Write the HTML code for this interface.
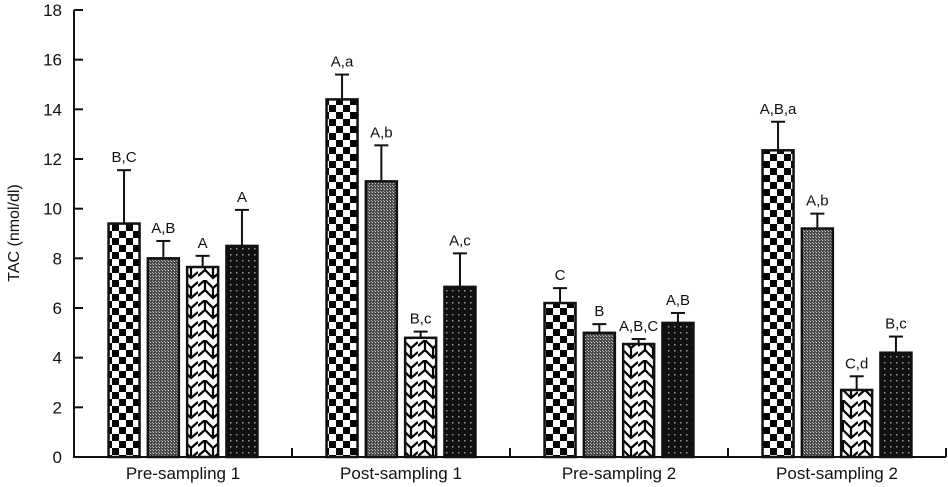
<!DOCTYPE html>
<html><head><meta charset="utf-8"><style>
html,body{margin:0;padding:0;background:#fff;}
svg{display:block;font-family:"Liberation Sans",Arial,sans-serif;}
</style></head><body>
<svg id="chart" width="948" height="487" viewBox="0 0 948 487" xmlns="http://www.w3.org/2000/svg">
<defs>
<pattern id="pChk" width="14" height="14" patternUnits="userSpaceOnUse">
<rect width="14" height="14" fill="#fff"/><rect width="7" height="7" fill="#000"/><rect x="7" y="7" width="7" height="7" fill="#000"/>
</pattern>
<pattern id="pGray" width="3" height="3" patternUnits="userSpaceOnUse">
<rect width="3" height="3" fill="#4a4a4a"/><rect width="1" height="1" fill="#ccc"/><rect x="2" y="2" width="1" height="1" fill="#aaa"/>
</pattern>
<pattern id="pWave" width="22" height="20" patternUnits="userSpaceOnUse">
<rect width="22" height="20" fill="#fff"/>
<path d="M0 6 L7 0 L15 8 L22 2 M0 16 L7 10 L15 18 L22 12 M7 0 L7 10 M15 8 L15 18" stroke="#000" stroke-width="2.2" fill="none"/>
</pattern>
<pattern id="pDot" width="6" height="6" patternUnits="userSpaceOnUse">
<rect width="6" height="6" fill="#111"/><rect x="2" y="2" width="1.5" height="1.5" fill="#999"/>
</pattern>
</defs>
<g id="axes"></g>
<g id="bars"></g>
<text transform="translate(19,233) rotate(-90)" text-anchor="middle" font-size="16" fill="#111">TAC (nmol/dl)</text>
</svg>
<script>
const categories = ["Pre-sampling 1","Post-sampling 1","Pre-sampling 2","Post-sampling 2"];
const seriesChecker = [9.4, 14.4, 6.2, 12.35];
const seriesGray = [8.0, 11.1, 5.0, 9.2];
const seriesWave = [7.65, 4.8, 4.55, 2.7];
const seriesDots = [8.5, 6.85, 5.4, 4.2];
const errChecker = [11.55, 15.4, 6.8, 13.5];
const errGray = [8.7, 12.55, 5.35, 9.8];
const errWave = [8.1, 5.05, 4.75, 3.25];
const errDots = [9.95, 8.2, 5.8, 4.85];
const labChecker = ["B,C","A,a","C","A,B,a"];
const labGray = ["A,B","A,b","B","A,b"];
const labWave = ["A","B,c","A,B,C","C,d"];
const labDots = ["A","A,c","A,B","B,c"];
const yTicks = [0,2,4,6,8,10,12,14,16,18];

const NS="http://www.w3.org/2000/svg";
const X0=74, X1=946, Y0=457, Y18=10;
const y = v => Y0 - v*(Y0-Y18)/18;
const groupW = (X1-X0)/categories.length;
const gx = i => X0 + groupW*i + groupW/2;
function mk(tag, attrs, parent){const e=document.createElementNS(NS,tag);for(const k in attrs)e.setAttribute(k,attrs[k]);parent.appendChild(e);return e;}
const axes=document.getElementById('axes'), bars=document.getElementById('bars');

const yl=mk('line',{x1:X0,y1:Y18,x2:X0,y2:Y0+1,stroke:'#111','stroke-width':2},axes);


const xl=mk('line',{x1:X0-1,y1:Y0,x2:X1,y2:Y0,stroke:'#111','stroke-width':2},axes);


yTicks.forEach(t=>{
  const tk=mk('line',{x1:X0,y1:y(t),x2:X0+9,y2:y(t),stroke:'#111','stroke-width':2},axes);
  
  
  const tl=mk('text',{x:X0-12,y:y(t)+6,'text-anchor':'end','font-size':17,fill:'#111'},axes);
  tl.textContent=t;
  
  
});
for(let i=1;i<=categories.length;i++){
  const tk=mk('line',{x1:X0+groupW*i,y1:Y0,x2:X0+groupW*i,y2:Y0-9,stroke:'#111','stroke-width':2},axes);
  
  
}
categories.forEach((c,i)=>{
  const t=mk('text',{x:gx(i),y:479,'text-anchor':'middle','font-size':17,fill:'#111'},axes);
  t.textContent=c;
  
  
});
const series=[[seriesChecker,errChecker,labChecker,'url(#pChk)'],[seriesGray,errGray,labGray,'url(#pGray)'],[seriesWave,errWave,labWave,'url(#pWave)'],[seriesDots,errDots,labDots,'url(#pDot)']];
const bw=31, step=39.3;
categories.forEach((c,i)=>{
  series.forEach((s,j)=>{
    const cx=gx(i)+(j-1.5)*step;
    const v=s[0][i], e=s[1][i];
    const el=mk('line',{x1:cx,y1:y(e),x2:cx,y2:y(v),stroke:'#111','stroke-width':2},bars);
    
    
    const cap=mk('line',{x1:cx-7,y1:y(e),x2:cx+7,y2:y(e),stroke:'#111','stroke-width':2},bars);
    
    
    const r=mk('rect',{x:cx-bw/2,y:y(v),width:bw,height:Y0-y(v),fill:s[3],stroke:'#111','stroke-width':2.5},bars);
    
    
    const t=mk('text',{x:cx,y:y(e)-8,'text-anchor':'middle','font-size':15,fill:'#111'},bars);
    t.textContent=s[2][i];
    
    
  });
});
</script>
</body></html>
